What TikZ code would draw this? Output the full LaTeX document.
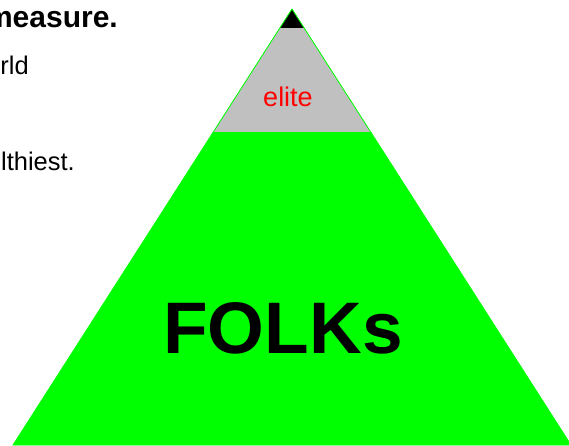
\documentclass[tikz,border=0pt]{standalone}
\usepackage{fontspec}
\setmainfont{Liberation Sans}
\definecolor{pgreen}{HTML}{00FF00}
\definecolor{psilver}{HTML}{C0C0C0}
\definecolor{pred}{HTML}{FF0000}
\begin{document}
\begin{tikzpicture}[x=1pt,y=-1pt,
  bodytext/.style={inner sep=0pt, anchor=base east, font=\fontsize{25.5}{30}\selectfont},
  headtext/.style={inner sep=0pt, anchor=base east, font=\fontsize{30}{34}\selectfont\bfseries}]
\useasboundingbox (0,0) rectangle (569,445);
\begin{scope}
\clip (0,0) rectangle (569,445);
\coordinate (apex) at (292,9);
\coordinate (bl) at (13,445);
\coordinate (br) at (571,445);
\fill[pgreen] (apex) -- (bl) -- (br) -- cycle;
\begin{scope}
\clip (apex) -- (bl) -- (br) -- cycle;
\fill[psilver] (0,0) rectangle (569,132);
\fill[black] (0,0) rectangle (569,28);
\end{scope}
\draw[pgreen, line width=0.8pt, line join=miter] (apex) -- (bl) -- (br) -- cycle;
\end{scope}
\node[headtext] (head) at (118,27) {measure.};
\node[bodytext] (l1) at (29,74) {rld};
\node[bodytext] (l2) at (75,170) {lthiest.};
\node[inner sep=0pt, anchor=base, text=pred, font=\fontsize{27}{30}\selectfont] (elite) at (288,106) {elite};
\node[inner sep=0pt, anchor=base, font=\fontsize{73}{80}\selectfont\bfseries] (folks) at (283,353) {FOLKs};
\end{tikzpicture}
\end{document}
